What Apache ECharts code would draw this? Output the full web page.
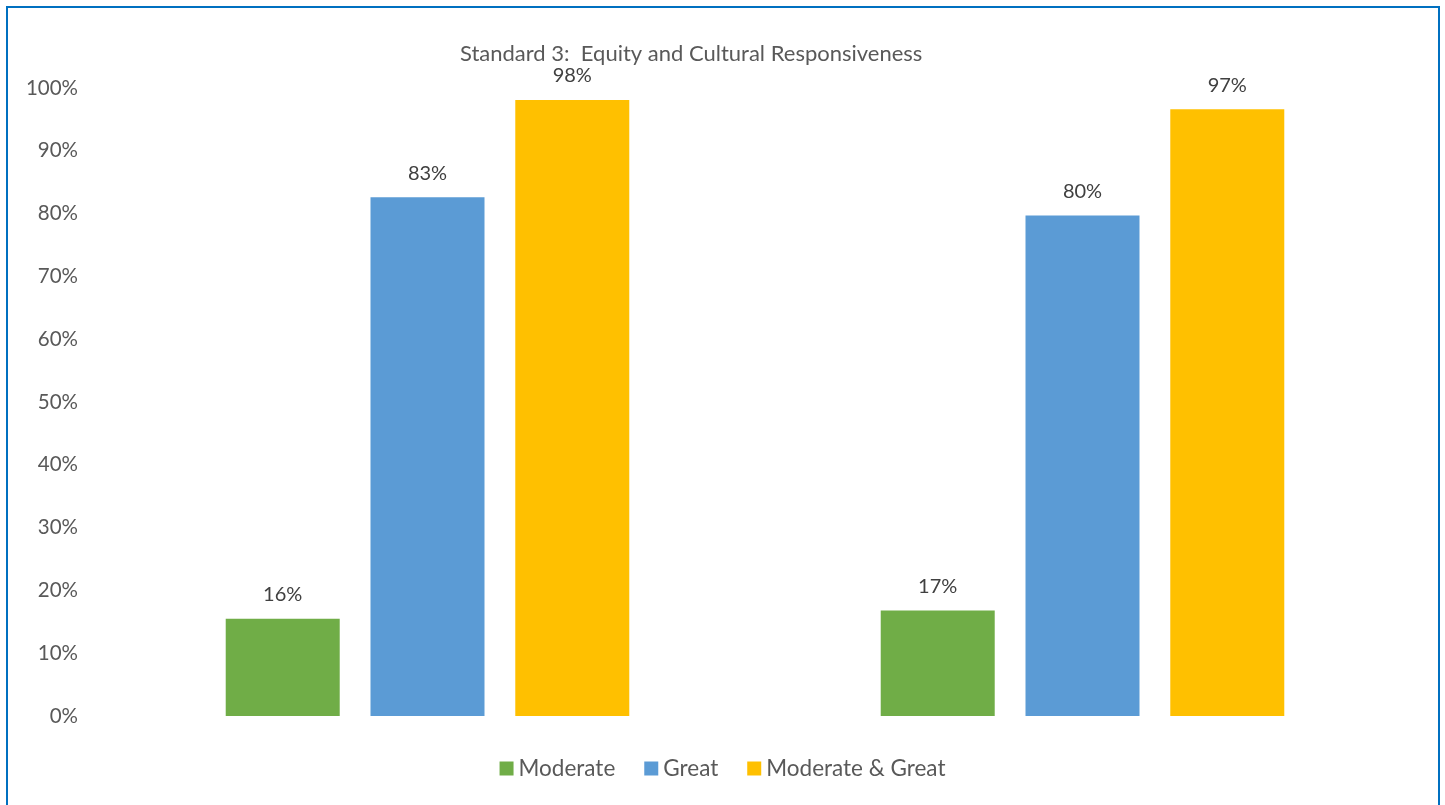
<!DOCTYPE html>
<html>
<head>
<meta charset="utf-8">
<script src="https://cdn.jsdelivr.net/npm/echarts@6/dist/echarts.min.js"></script>
<style>
html,body{margin:0;padding:0;background:#fff;}
#chart{width:1445px;height:805px;}
</style>
</head>
<body>
<div id="chart"></div>
<script>
var categories = ['Group 1', 'Group 2'];
var seriesNames = ['Moderate', 'Great', 'Moderate & Great'];
var moderate = [15.5, 16.8];
var great = [82.6, 79.7];
var moderateGreat = [98.1, 96.6];
var colors = ['#70AD47', '#5B9BD5', '#FFC000'];
var titleText = 'Standard 3:  Equity and Cultural Responsiveness';

var fontFam = 'Lato, "Liberation Sans", sans-serif';
var chart = echarts.init(document.getElementById('chart'));
function mk(name, data, color) {
  return {
    name: name, type: 'bar', data: data, barWidth: 114, barGap: '27%',
    itemStyle: { color: color },
    label: { show: true, position: 'top', distance: 14, color: '#404040',
      fontFamily: fontFam, fontSize: 20,
      formatter: function (p) { return Math.round(p.value) + '%'; } }
  };
}
chart.setOption({
  animation: false,
  color: colors,
  title: { text: titleText, left: 455, top: 38,
    textStyle: { fontFamily: fontFam, fontSize: 22, fontWeight: 'normal', color: '#595959' } },
  legend: { bottom: 20, left: 'center', itemWidth: 14, itemHeight: 14, itemGap: 29,
    icon: 'rect',
    textStyle: { fontFamily: fontFam, fontSize: 22.5, color: '#595959' },
    data: seriesNames },
  grid: { left: 100, right: 35, top: 88, bottom: 89 },
  xAxis: { type: 'category', data: categories, axisLine: { show: false },
    axisTick: { show: false }, axisLabel: { show: false } },
  yAxis: { type: 'value', min: 0, max: 100, interval: 10,
    splitLine: { show: false }, axisLine: { show: false }, axisTick: { show: false },
    axisLabel: { formatter: '{value}%', margin: 22, fontFamily: fontFam, fontSize: 20.5, color: '#595959' } },
  graphic: [{ type: 'rect', shape: { x: 7, y: 7, width: 1432, height: 820 },
    style: { fill: 'none', stroke: '#0070C0', lineWidth: 2 }, silent: true }],
  series: [mk(seriesNames[0], moderate, colors[0]), mk(seriesNames[1], great, colors[1]), mk(seriesNames[2], moderateGreat, colors[2])]
});
</script>
</body>
</html>
